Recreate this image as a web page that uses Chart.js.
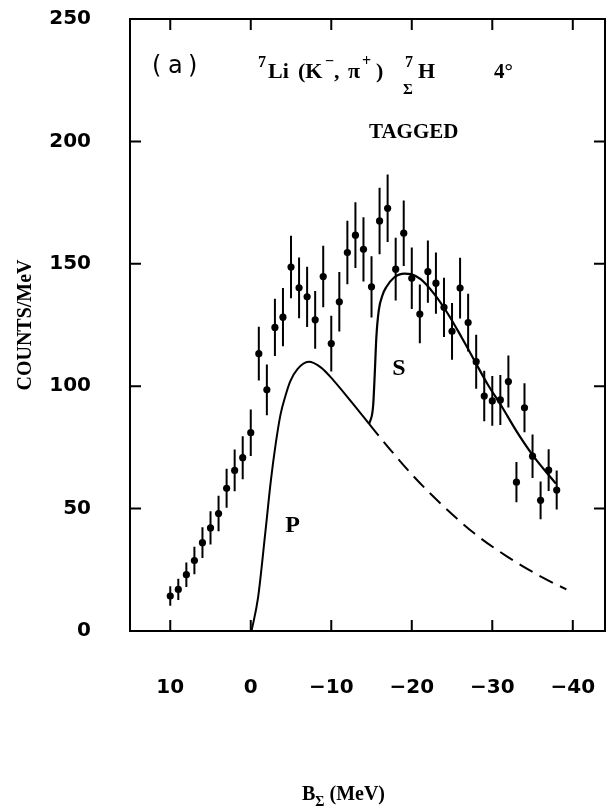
<!DOCTYPE html>
<html>
<head>
<meta charset="utf-8">
<script src="https://cdn.jsdelivr.net/npm/chart.js"></script>
<style>
  html, body { margin: 0; padding: 0; background: #fff; }
  #wrap { width: 610px; height: 811px; }
</style>
</head>
<body>
<div id="wrap"><canvas id="spec" width="610" height="811"></canvas></div>
<script>
// binding energy bins (MeV) and tagged counts per MeV
const energy = [10, 9, 8, 7, 6, 5, 4, 3, 2, 1, 0, -1, -2, -3, -4, -5, -6, -7, -8, -9,
  -10, -11, -12, -13, -14, -15, -16, -17, -18, -19, -20, -21, -22, -23, -24, -25, -26, -27, -28, -29,
  -30, -31, -32, -33, -34, -35, -36, -37, -38];
const counts = [14.3, 17.0, 23.0, 28.8, 36.1, 42.1, 48.0, 58.3, 65.6, 70.8, 81.0, 113.3, 98.5, 124.0,
  128.2, 148.7, 140.2, 136.5, 127.1, 144.8, 117.4, 134.5, 154.6, 161.7, 155.9, 140.6, 167.5, 172.7,
  147.8, 162.5, 144.1, 129.5, 146.8, 142.1, 132.2, 122.4, 140.1, 126.0, 110.0, 96.0, 94.0, 94.4,
  101.9, 60.8, 91.2, 71.4, 53.4, 65.7, 57.6];
const countErr = [4, 4.3, 5, 5.6, 6.3, 6.8, 7.3, 8, 8.5, 8.8, 9.5, 11, 10.4, 11.7, 11.9, 12.8, 12.4,
  12.3, 11.8, 12.6, 11.4, 12.2, 13, 13.4, 13.1, 12.5, 13.6, 13.8, 12.8, 13.4, 12.6, 12, 12.7, 12.5,
  12.1, 11.6, 12.4, 11.8, 11, 10.3, 10.2, 10.2, 10.6, 8.2, 10, 8.9, 7.7, 8.5, 8];

// P-state curve (solid part up to the S threshold, then dashed tail)
const pCurveX = [-0.1, -0.9, -1.8, -2.5, -3.1, -3.7, -4.3, -4.9, -5.8, -7.2, -8.7, -10.3, -12.4, -14.7];
const pCurveY = [0, 13.5, 40, 61.5, 76.5, 88.5, 96, 102, 107, 110, 107.7, 102.3, 94, 84.6];
const pTailX = [-14.7, -17.4, -20.3, -23.6, -27.8, -31.9, -36.1, -39.2];
const pTailY = [84.6, 73.8, 62.9, 52.0, 39.8, 30.3, 22.1, 17.0];

// P + S curve
const sCurveX = [-14.7, -15.2, -15.4, -15.6, -15.9, -16.4, -16.8, -17.8, -19.1, -19.9, -21.1, -22.8,
  -24.5, -26.2, -27.8, -29.4, -31.1, -33.2, -35.2, -37.9];
const sCurveY = [84.6, 92, 105, 120, 131, 137.5, 140.3, 144.4, 146, 145.8, 143.7, 137.6, 129.5, 119.9,
  110.4, 100.9, 92.1, 80.6, 71.0, 60.2];

const xTicks = [10, 0, -10, -20, -30, -40];
const yTicks = [0, 50, 100, 150, 200, 250];

const pts = (xs, ys) => xs.map((v, i) => ({x: v, y: ys[i]}));
const serif = 'Liberation Serif';

// keep the plot box where the original has it, labels may hang outside
const fixBox = (s, size) => {
  if (s.isHorizontal()) s.height = size; else s.width = size;
  s.paddingLeft = s.paddingRight = s.paddingTop = s.paddingBottom = 0;
};

const decor = {
  id: 'decor',
  beforeDatasetsDraw(chart) {
    const {ctx, scales: {x, y}} = chart;
    ctx.save();
    ctx.strokeStyle = '#000';
    ctx.lineWidth = 2;
    ctx.beginPath();
    energy.forEach((e, i) => {
      const px = x.getPixelForValue(e);
      ctx.moveTo(px, y.getPixelForValue(counts[i] - countErr[i]));
      ctx.lineTo(px, y.getPixelForValue(counts[i] + countErr[i]));
    });
    ctx.stroke();
    ctx.restore();
  },
  afterDraw(chart) {
    const {ctx, chartArea: a, scales: {x, y}} = chart;
    ctx.save();
    ctx.strokeStyle = '#000';
    ctx.lineWidth = 2;
    ctx.strokeRect(a.left, a.top, a.right - a.left, a.bottom - a.top);
    ctx.beginPath();
    x.ticks.forEach(t => {
      const px = x.getPixelForValue(t.value);
      ctx.moveTo(px, a.bottom); ctx.lineTo(px, a.bottom - 11);
      ctx.moveTo(px, a.top); ctx.lineTo(px, a.top + 11);
    });
    y.ticks.forEach(t => {
      const py = y.getPixelForValue(t.value);
      ctx.moveTo(a.left, py); ctx.lineTo(a.left + 11, py);
      ctx.moveTo(a.right, py); ctx.lineTo(a.right - 11, py);
    });
    ctx.stroke();

    ctx.fillStyle = '#000';
    ctx.textAlign = 'left';
    ctx.textBaseline = 'alphabetic';
    const put = (s, px, py, size, weight, fam) => {
      ctx.font = (weight || 'bold') + ' ' + size + 'px "' + (fam || serif) + '"';
      ctx.fillText(s, px, py);
      return px + ctx.measureText(s).width;
    };

    // panel tag
    put('(', 152, 73, 24, 'normal', 'DejaVu Sans');
    put('a', 168, 73, 24, 'normal', 'DejaVu Sans');
    put(')', 188, 73, 24, 'normal', 'DejaVu Sans');

    // 7Li (K-, pi+) 7_Sigma H   4 deg
    put('7', 258, 67, 16);
    put('Li', 268, 78, 22);
    put('(K', 298, 78, 22);
    put('\u2212', 325, 66, 16);
    put(',', 334, 78, 22);
    put('\u03c0', 348, 78, 22);
    put('+', 362, 66, 16);
    put(')', 376, 78, 22);
    put('7', 405, 67, 16);
    put('\u03a3', 403, 94, 15);
    put('H', 418, 78, 22);
    put('4\u00b0', 494, 78, 21);
    put('TAGGED', 369, 138, 21);

    // curve labels, placed in data coordinates
    ctx.textAlign = 'center';
    ctx.textBaseline = 'middle';
    ctx.font = 'bold 24px "' + serif + '"';
    ctx.fillText('P', x.getPixelForValue(-5.2), y.getPixelForValue(43));
    ctx.fillText('S', x.getPixelForValue(-18.4), y.getPixelForValue(107));

    // x axis title with subscript
    ctx.textAlign = 'left';
    ctx.textBaseline = 'alphabetic';
    let tx = put('B', 302, 800, 20);
    tx = put('\u03a3', tx, 806, 14);
    put(' (MeV)', tx, 800, 20);
    ctx.restore();
  }
};

new Chart(document.getElementById('spec'), {
  type: 'scatter',
  data: {
    datasets: [
      {
        data: pts(energy, counts),
        backgroundColor: '#000',
        borderColor: '#000',
        pointRadius: 3.6,
        pointBorderWidth: 0
      },
      {
        data: pts(pCurveX, pCurveY),
        showLine: true,
        borderColor: '#000',
        borderWidth: 2,
        pointRadius: 0,
        cubicInterpolationMode: 'monotone'
      },
      {
        data: pts(pTailX, pTailY),
        showLine: true,
        borderColor: '#000',
        borderWidth: 2,
        borderDash: [15, 8],
        pointRadius: 0,
        cubicInterpolationMode: 'monotone'
      },
      {
        data: pts(sCurveX, sCurveY),
        showLine: true,
        borderColor: '#000',
        borderWidth: 2.2,
        pointRadius: 0,
        cubicInterpolationMode: 'monotone'
      }
    ]
  },
  options: {
    responsive: false,
    animation: false,
    devicePixelRatio: 1,
    layout: {padding: {top: 19, right: 5, left: 0, bottom: 0}},
    plugins: {legend: {display: false}, tooltip: {enabled: false}},
    scales: {
      x: {
        type: 'linear',
        reverse: true,
        min: -44,
        max: 15,
        afterBuildTicks: s => { s.ticks = xTicks.map(v => ({value: v})); },
        afterFit: s => fixBox(s, 180),
        grid: {display: false},
        border: {display: false},
        ticks: {
          color: '#000',
          padding: 37,
          maxRotation: 0,
          font: {family: 'DejaVu Sans', weight: 'bold', size: 20},
          callback: v => v < 0 ? '\u2212' + Math.abs(v) : String(v)
        }
      },
      y: {
        min: 0,
        max: 250,
        afterBuildTicks: s => { s.ticks = yTicks.map(v => ({value: v})); },
        afterFit: s => fixBox(s, 130),
        grid: {display: false},
        border: {display: false},
        ticks: {
          color: '#000',
          padding: 31,
          font: {family: 'DejaVu Sans', weight: 'bold', size: 20}
        },
        title: {
          display: true,
          text: 'COUNTS/MeV',
          color: '#000',
          padding: {top: 14, bottom: 0},
          font: {family: serif, weight: 'bold', size: 20}
        }
      }
    }
  },
  plugins: [decor]
});
</script>
</body>
</html>
